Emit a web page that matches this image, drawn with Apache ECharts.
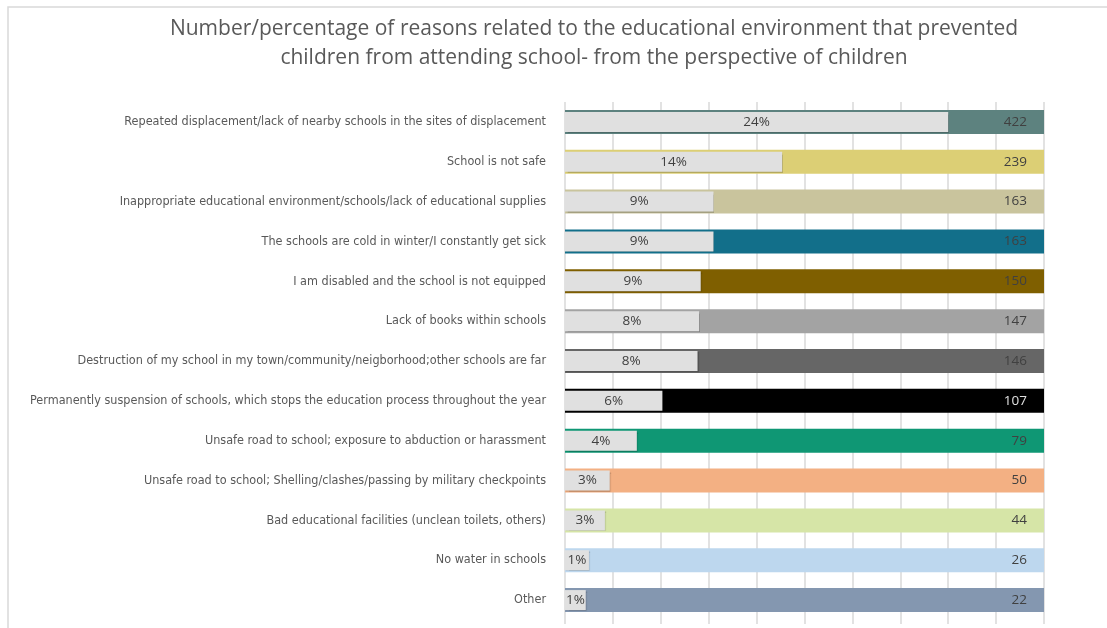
<!DOCTYPE html>
<html>
<head>
<meta charset="utf-8">
<script src="https://cdn.jsdelivr.net/npm/echarts@6/dist/echarts.min.js"></script>
<style>
html,body{margin:0;padding:0;background:#fff;}
#c{width:1107px;height:628px;}
</style>
</head>
<body>
<div id="c"></div>
<script>
const categories = [
  "Repeated displacement/lack of nearby schools in the sites of displacement",
  "School is not safe",
  "Inappropriate educational environment/schools/lack of educational supplies",
  "The schools are cold in winter/I constantly get sick",
  "I am disabled and the school is not equipped",
  "Lack of books within schools",
  "Destruction of my school in my town/community/neigborhood;other schools are far",
  "Permanently suspension of schools, which stops the education process throughout the year",
  "Unsafe road to school; exposure to abduction or harassment",
  "Unsafe road to school; Shelling/clashes/passing by military checkpoints",
  "Bad educational facilities (unclean toilets, others)",
  "No water in schools",
  "Other"
];
const counts = [422, 239, 163, 163, 150, 147, 146, 107, 79, 50, 44, 26, 22];
const percents = [24.0, 13.6, 9.3, 9.3, 8.5, 8.4, 8.3, 6.1, 4.5, 2.8, 2.5, 1.5, 1.3];
const percentLabels = ["24%", "14%", "9%", "9%", "9%", "8%", "8%", "6%", "4%", "3%", "3%", "1%", "1%"];
const barColors = ["#5d827f", "#dccf75", "#c9c49d", "#126f8a", "#7f5f00", "#a3a3a3", "#666666", "#000000", "#0f9774", "#f3b083", "#d6e5a7", "#bdd7ee", "#8497b0"];
const axisMax = 30;
const axisStep = 3;

const chart = echarts.init(document.getElementById('c'), null, {renderer: 'canvas'});
const bgData = counts.map((c, i) => ({
  value: axisMax,
  itemStyle: {color: barColors[i]},
  label: {color: barColors[i] === "#000000" ? "#e0e0e0" : "#404040"}
}));
chart.setOption({
  animation: false,
  backgroundColor: '#ffffff',
  title: {
    text: 'Number/percentage of reasons related to the educational environment that prevented\nchildren from attending school- from the perspective of children',
    left: 589,
    textAlign: 'center',
    top: 10,
    textStyle: {fontFamily: "'Open Sans', sans-serif", fontSize: 21, fontWeight: 'normal', color: '#595959', lineHeight: 29}
  },
  graphic: [{
    type: 'rect',
    shape: {x: 8, y: 7, width: 1200, height: 700},
    style: {fill: 'none', stroke: '#d9d9d9', lineWidth: 1.5},
    silent: true
  }],
  grid: {left: 565, right: 63, top: 102, bottom: 8, containLabel: false},
  xAxis: {
    type: 'value', min: 0, max: axisMax, interval: axisStep,
    axisLabel: {show: false},
    axisLine: {show: false},
    axisTick: {show: true, length: 4, lineStyle: {color: '#d9d9d9', width: 1.5}},
    splitLine: {show: true, lineStyle: {color: '#d9d9d9', width: 1.5}}
  },
  yAxis: [{
    type: 'category', data: categories, inverse: true,
    axisLine: {show: false}, axisTick: {show: false},
    axisLabel: {margin: 19, fontSize: 12.5, color: '#595959', fontFamily: "'Liberation Sans Narrow', 'DejaVu Sans Condensed', sans-serif"}
  }, {
    type: 'category', data: categories, inverse: true, show: false
  }],
  series: [{
    type: 'bar', yAxisIndex: 0, barWidth: 24, data: bgData,
    label: {
      show: true, position: 'insideRight', distance: 17,
      fontFamily: "'Open Sans', sans-serif", fontSize: 13.5,
      formatter: p => String(counts[p.dataIndex])
    },
    z: 2
  }, {
    type: 'bar', yAxisIndex: 1, barWidth: 20, data: percents,
    itemStyle: {color: '#e0e0e0', shadowColor: 'rgba(0,0,0,0.18)', shadowOffsetX: 1, shadowOffsetY: 1, shadowBlur: 1},
    label: {
      show: true, position: 'inside', color: '#404040',
      fontFamily: "'Open Sans', sans-serif", fontSize: 13.5,
      formatter: p => percentLabels[p.dataIndex]
    },
    z: 3
  }]
});
</script>
</body>
</html>
